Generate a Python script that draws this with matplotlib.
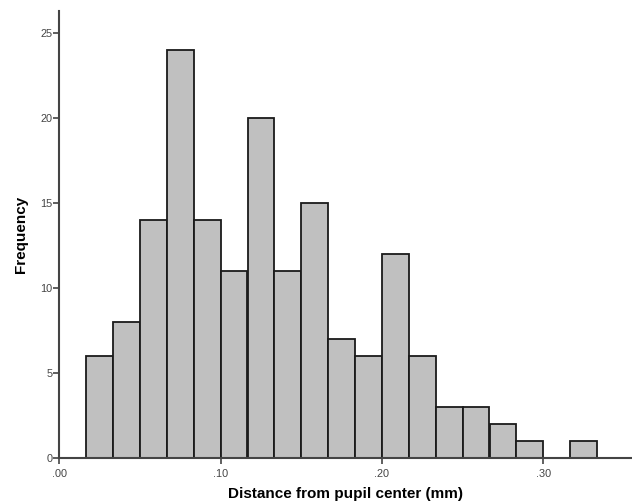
import numpy as np
import matplotlib
matplotlib.use("Agg")
import matplotlib.pyplot as plt
import matplotlib.ticker as ticker

plt.rcParams["font.family"] = ["Liberation Sans", "DejaVu Sans"]

# Histogram data: lower bin edges (mm) and counts
bin_width = 1 / 60
bin_lower = [0.0167, 0.0333, 0.0500, 0.0667, 0.0833, 0.1000, 0.1167, 0.1333,
             0.1500, 0.1667, 0.1833, 0.2000, 0.2167, 0.2333, 0.2500, 0.2667,
             0.2833, 0.3000, 0.3167]
counts = [6, 8, 14, 24, 14, 11, 20, 11, 15, 7, 6, 12, 6, 3, 3, 2, 1, 0, 1]

x_ticks = [0.0, 0.1, 0.2, 0.3]
x_tick_labels = [".00", ".10", ".20", ".30"]
y_ticks = [0, 5, 10, 15, 20, 25]

fig = plt.figure(figsize=(6.32, 5.03), dpi=100)
ax = fig.add_axes([0.0938, 0.0895, 0.9062, 0.8885])

ax.bar(bin_lower, counts, width=bin_width, align="edge",
       color="#c0c0c0", edgecolor="#1a1a1a", linewidth=1.3)

ax.set_xlim(0, 0.355)
ax.set_ylim(0, 26.3)

ax.set_xticks(x_ticks)
ax.set_xticklabels(x_tick_labels)
ax.set_yticks(y_ticks)

for side in ["top", "right"]:
    ax.spines[side].set_visible(False)
for side in ["left", "bottom"]:
    ax.spines[side].set_color("#444444")
    ax.spines[side].set_linewidth(1.5)

ax.tick_params(axis="both", labelsize=7.8, colors="#444444", width=1.2, length=4)
ax.tick_params(axis="x", pad=4)
ax.tick_params(axis="y", pad=1)

ax.set_xlabel("Distance from pupil center (mm)", fontsize=11, fontweight="bold",
              labelpad=6)
ax.set_ylabel("Frequency", fontsize=11, fontweight="bold", labelpad=9)

fig.savefig("out.png", dpi=100)
